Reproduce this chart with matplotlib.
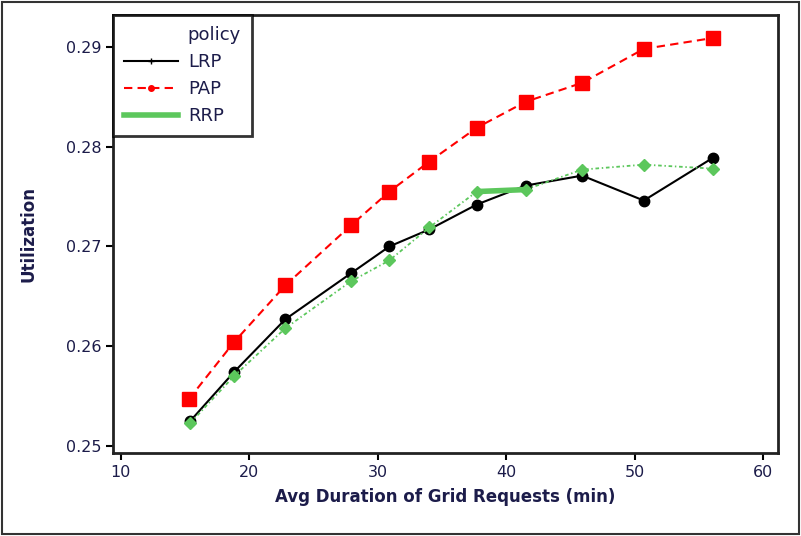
import matplotlib
matplotlib.use("Agg")
import matplotlib.pyplot as plt
from matplotlib.lines import Line2D
from matplotlib.patches import Rectangle

x_lrp = [15.4, 18.8, 22.8, 27.9, 30.9, 34.0, 37.7, 41.5, 45.9, 50.7, 56.1]
x_pap = [15.3, 18.8, 22.8, 27.9, 30.9, 34.0, 37.7, 41.5, 45.9, 50.7, 56.1]
x_rrp = [15.4, 18.8, 22.8, 27.9, 30.9, 34.0, 37.7, 41.5, 45.9, 50.7, 56.1]
lrp = [0.2525, 0.2574, 0.2627, 0.2673, 0.2700, 0.2717, 0.2742, 0.2761, 0.2771, 0.2746, 0.2789]
pap = [0.2547, 0.2604, 0.2661, 0.2721, 0.2755, 0.2785, 0.2819, 0.2845, 0.2864, 0.2898, 0.2909]
rrp = [0.2523, 0.2570, 0.2618, 0.2665, 0.2686, 0.2719, 0.2755, 0.2757, 0.2777, 0.2782, 0.2778]
xticks = [10, 20, 30, 40, 50, 60]
yticks = [0.25, 0.26, 0.27, 0.28, 0.29]
ytick_labels = ["0.25", "0.26", "0.27", "0.28", "0.29"]

plt.rcParams['font.family'] = ['DejaVu Sans']
txt = '#1c1c4a'
green = '#5cc75c'

fig = plt.figure(figsize=(8.01, 5.36), dpi=100)
ax = fig.add_axes([0.141, 0.155, 0.830, 0.817])

ax.plot(x_lrp, lrp, color='black', lw=1.5, ls='-', marker='o', ms=7.5, zorder=3)
ax.plot(x_pap, pap, color='#ff0000', lw=1.5, ls=(0, (4, 2.5)), marker='s', ms=10, zorder=3)
ax.plot(x_rrp, rrp, color=green, lw=1.3, ls=(0, (2, 1.5, 0.8, 1.5)), marker='D', ms=6.5, zorder=4)
ax.plot(x_rrp[6:8], rrp[6:8], color=green, lw=4, ls='-', zorder=4)

ax.set_xlim(9.38, 61.13)
ax.set_ylim(0.2493, 0.2932)
ax.set_xticks(xticks)
ax.set_yticks(yticks)
ax.set_yticklabels(ytick_labels)
ax.tick_params(axis='both', direction='out', length=5, width=1.5, labelsize=11.5,
               labelcolor=txt, color='black')
for s in ax.spines.values():
    s.set_linewidth(2)
    s.set_color('#222222')

ax.set_xlabel('Avg Duration of Grid Requests (min)', fontsize=12, fontweight='bold', color=txt, labelpad=6)
ax.set_ylabel('Utilization', fontsize=12, fontweight='bold', color=txt, labelpad=20)

handles = [
    Line2D([], [], color='none'),
    Line2D([], [], color='black', lw=1.5, marker='+', ms=5),
    Line2D([], [], color='#ff0000', lw=1.5, ls=(0, (4, 2.5)), marker='o', ms=4),
    Line2D([], [], color=green, lw=4),
]
leg = ax.legend(handles, ['policy', 'LRP', 'PAP', 'RRP'], loc='upper left',
                bbox_to_anchor=(0.0, 1.0), borderaxespad=0, frameon=True,
                fancybox=False, fontsize=13, handlelength=3.0,
                handletextpad=0.55, labelspacing=0.5, borderpad=0.6)
for t in leg.get_texts():
    t.set_color(txt)
leg.get_frame().set_edgecolor('black')
leg.get_frame().set_linewidth(2)

fig.patches.append(Rectangle((0.002, 0.003), 0.996, 0.994, transform=fig.transFigure,
                             fill=False, edgecolor='#333333', lw=1.5))

fig.savefig('out.png', dpi=100)
